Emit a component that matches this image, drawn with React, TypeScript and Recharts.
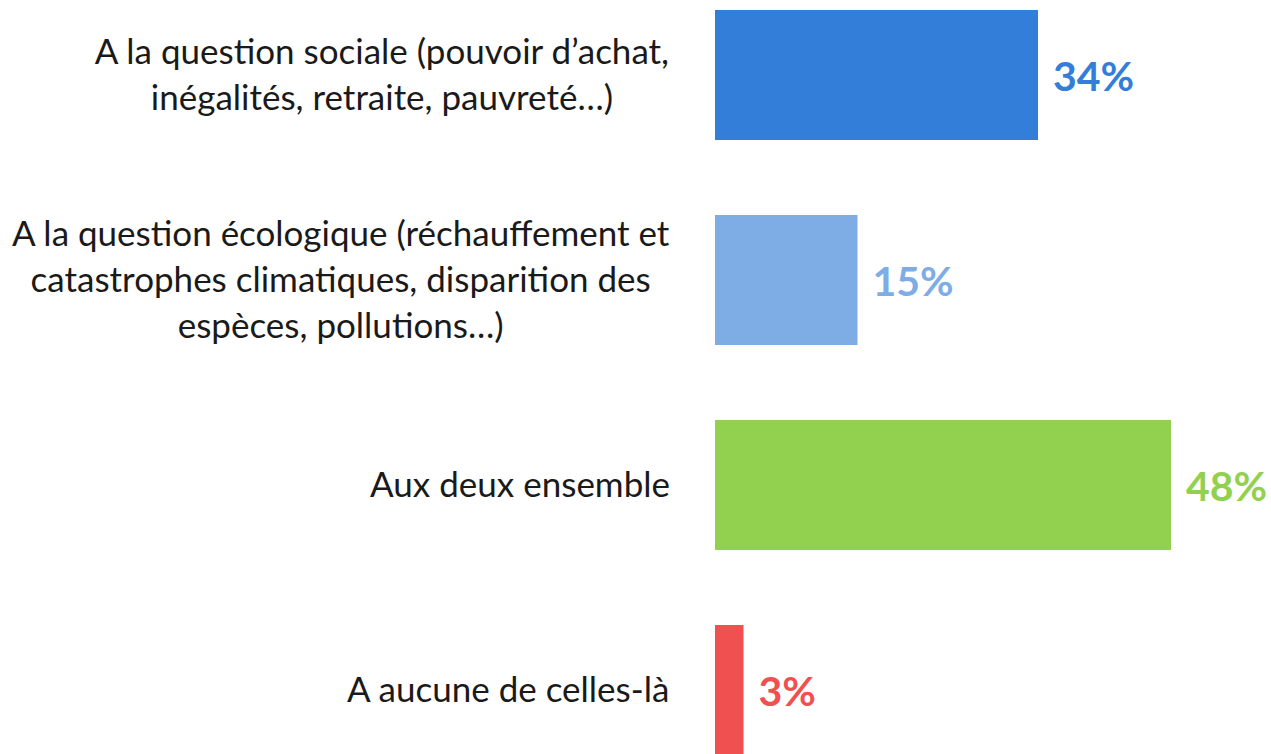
import { BarChart, Bar, XAxis, YAxis, Cell, LabelList } from 'recharts';

const categories = [
  'A la question sociale (pouvoir d’achat,\ninégalités, retraite, pauvreté…)',
  'A la question écologique (réchauffement et\ncatastrophes climatiques, disparition des\nespèces, pollutions…)',
  'Aux deux ensemble',
  'A aucune de celles-là',
];
const shares = [34, 15, 48, 3];
const colors = ['#337ed9', '#7eade6', '#92d050', '#f05050'];

const data = categories.map((name, i) => ({ name, value: shares[i] }));

const LABEL_FONT = 'Lato, "Open Sans", sans-serif';
const LABEL_SIZE = 35;
const LINE_HEIGHT = 46;

let ctx: CanvasRenderingContext2D | null = null;
function measure(text: string) {
  if (!ctx) ctx = document.createElement('canvas').getContext('2d');
  if (!ctx) return text.length * LABEL_SIZE * 0.48;
  ctx.font = `${LABEL_SIZE}px Lato`;
  return ctx.measureText(text).width;
}

function CategoryTick(props: any) {
  const { x, y, payload } = props;
  const lines = String(payload.value).split('\n');
  const maxW = Math.max(...lines.map(measure));
  const cx = x - maxW / 2;
  return (
    <text textAnchor="middle" fontFamily={LABEL_FONT} fontSize={LABEL_SIZE} fill="#1a1a1a">
      {lines.map((line, i) => (
        <tspan key={i} x={cx} y={y + (i - (lines.length - 1) / 2) * LINE_HEIGHT + LABEL_SIZE * 0.35}>
          {line}
        </tspan>
      ))}
    </text>
  );
}

function ValueLabel(props: any) {
  const { x, y, width, height, value, index } = props;
  return (
    <text
      x={x + width + 15}
      y={y + height / 2 + 16}
      fill={colors[index]}
      fontFamily={LABEL_FONT}
      fontWeight={700}
      fontSize={41}
    >
      {value}%
    </text>
  );
}

export default function App() {
  return (
    <div style={{ position: 'absolute', left: 0, top: 0, width: 1271, height: 754, overflow: 'hidden', background: '#fff' }}>
      <div style={{ marginTop: -28 }}>
        <BarChart
          width={1271}
          height={820}
          data={data}
          layout="vertical"
          margin={{ top: 0, right: 81, bottom: 0, left: 0 }}
        >
          <XAxis type="number" domain={[0, 50]} hide />
          <YAxis
            type="category"
            dataKey="name"
            width={715}
            axisLine={false}
            tickLine={false}
            tickSize={0}
            tickMargin={45}
            tick={<CategoryTick />}
            interval={0}
          />
          <Bar dataKey="value" barSize={130} isAnimationActive={false}>
            {data.map((d, i) => (
              <Cell key={d.name} fill={colors[i]} />
            ))}
            <LabelList dataKey="value" content={<ValueLabel />} />
          </Bar>
        </BarChart>
      </div>
    </div>
  );
}
